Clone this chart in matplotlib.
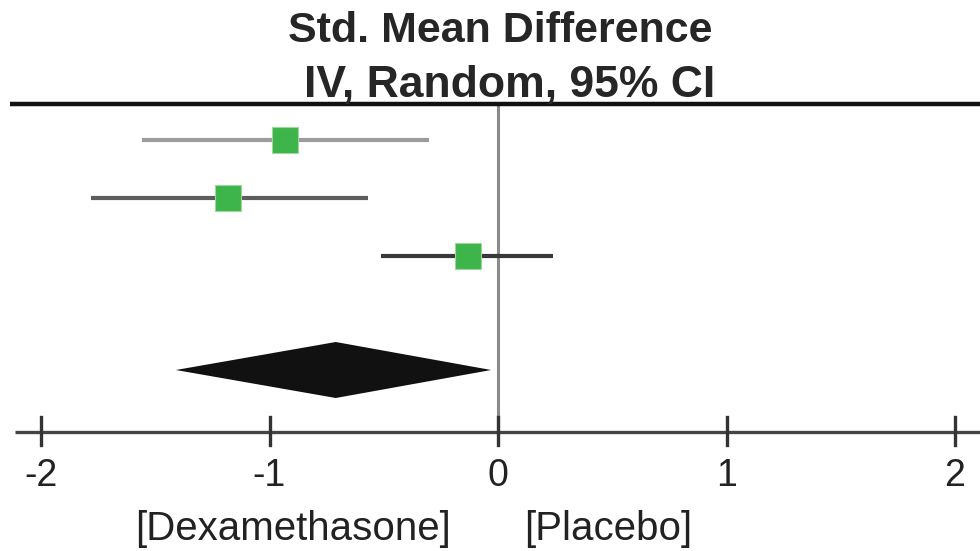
import numpy as np
import matplotlib
matplotlib.use("Agg")
import matplotlib.pyplot as plt

# Study-level standardised mean differences with 95% CI
smd = [-0.93, -1.18, -0.13]
ci_low = [-1.56, -1.78, -0.51]
ci_high = [-0.30, -0.57, 0.24]
ci_colors = ['#9c9c9c', '#5c5c5c', '#383838']

# Pooled random-effects estimate
pooled = -0.71
pooled_low = -1.41
pooled_high = -0.03

ticks = [-2, -1, 0, 1, 2]
tick_labels = ['-2', '-1', '0', '1', '2']

W, H = 980, 551
fig = plt.figure(figsize=(W / 100, H / 100), dpi=100)
ax = fig.add_axes([0, 0, 1, 1])

# horizontal scale: 228.5 px per unit, zero at pixel 498
px_unit = 228.5
x0_px = 498
ax.set_xlim(-x0_px / px_unit, (W - x0_px) / px_unit)
ax.set_ylim(H, 0)
ax.axis('off')

def px(p):
    return (p - x0_px) / px_unit

row_y = [140, 198, 256]
diamond_y = 370
diamond_half = 28
axis_y = 432

sans = ['Liberation Sans', 'DejaVu Sans']

# header
ax.text(px(500), 31, 'Std. Mean Difference', ha='center', va='center',
        fontsize=31, fontweight='bold', family=sans, color='#262626')
ax.text(px(510), 86, 'IV, Random, 95% CI', ha='center', va='center',
        fontsize=32, fontweight='bold', family=sans, color='#262626')
ax.plot([px(10), px(W)], [104, 104], color='#111111', lw=3.2,
        solid_capstyle='butt')

# line of no effect
ax.plot([0, 0], [106, axis_y], color='#8a8a8a', lw=2.2, zorder=1)

# individual studies
for y, m, lo, hi, c in zip(row_y, smd, ci_low, ci_high, ci_colors):
    ax.plot([lo, hi], [y, y], color=c, lw=3.0, solid_capstyle='butt', zorder=2)
    ax.plot(m, y, marker='s', markersize=18.5, color='#3db54a',
            markeredgecolor='#9fd69a', markeredgewidth=0.8, zorder=3)

# pooled diamond
ax.fill([pooled_low, pooled, pooled_high, pooled],
        [diamond_y, diamond_y - diamond_half, diamond_y, diamond_y + diamond_half],
        color='#111111', lw=0, zorder=3)

# x axis with crossing ticks
ax.plot([px(15), px(W)], [axis_y, axis_y], color='#444444', lw=2.4,
        solid_capstyle='butt')
for t, lab in zip(ticks, tick_labels):
    ax.plot([t, t], [417, 445], color='#333333', lw=2.4)
    ax.text(t, 476, lab, ha='center', va='center', fontsize=27,
            family=sans, color='#222222')

ax.text(px(293), 529, '[Dexamethasone]', ha='center', va='center',
        fontsize=29, family=sans, color='#222222')
ax.text(px(608), 529, '[Placebo]', ha='center', va='center',
        fontsize=29, family=sans, color='#222222')

fig.savefig('out.png', dpi=100)
